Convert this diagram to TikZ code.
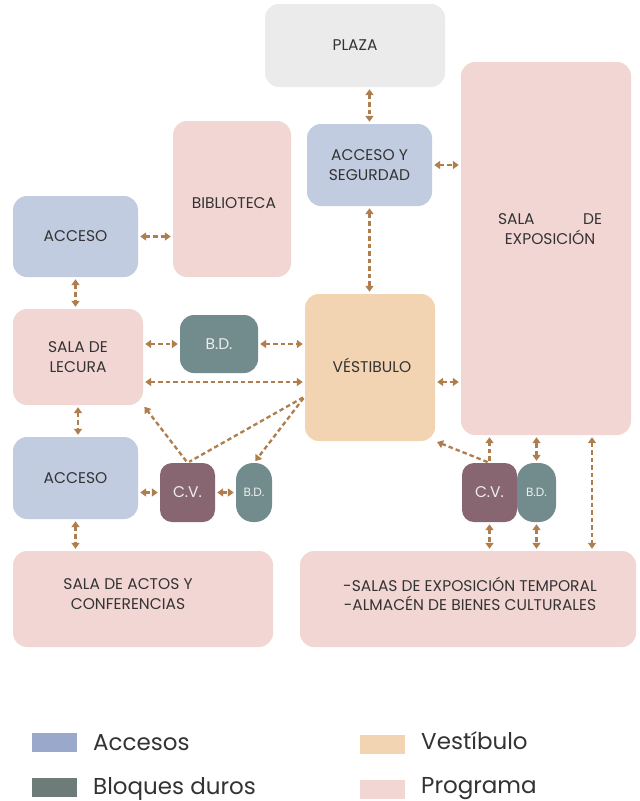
\documentclass[tikz,border=0pt]{standalone}
\usepackage{fontspec}
\setmainfont{Poppins}
\usetikzlibrary{arrows.meta}
\definecolor{acc}{HTML}{C2CCE0}
\definecolor{prog}{HTML}{F2D6D3}
\definecolor{vestc}{HTML}{F2D3B2}
\definecolor{plazac}{HTML}{EBEBEB}
\definecolor{bdc}{HTML}{728C8E}
\definecolor{cvc}{HTML}{876672}
\definecolor{arr}{HTML}{B07E4C}
\definecolor{txt}{HTML}{333333}
\definecolor{wtxt}{HTML}{EDEDED}
\definecolor{legacc}{HTML}{9AA8CC}
\definecolor{legbd}{HTML}{6D7B79}
\tikzset{
  box/.style={rounded corners=14pt, inner sep=0pt, text=txt, align=center,
    font=\fontsize{15.5}{19.5}\selectfont},
  lbl/.style={inner sep=0pt, text=txt, align=center, font=\fontsize{15.5}{19.5}\selectfont},
  conn/.style={draw=arr, line width=2.3pt, dash pattern=on 4.5pt off 3pt,
    shorten >=2pt, shorten <=2pt},
  tipboth/.style={conn, {Triangle[width=8pt,length=6pt]}-{Triangle[width=8pt,length=6pt]}},
  tipend/.style={conn, -{Triangle[width=8pt,length=6pt]}},
  swatch/.style={inner sep=0pt, minimum width=45pt, minimum height=19pt},
  legtxt/.style={anchor=base west, inner sep=0pt, text=txt, font=\fontsize{23}{26}\selectfont},
}
\begin{document}
\begin{tikzpicture}[x=1pt,y=-1pt]
\useasboundingbox[fill=white] (0,0) rectangle (640,801);
% boxes
\node[box, fill=plazac, minimum width=180pt, minimum height=83pt] (plaza) at (355,45.5) {PLAZA};
\node[box, fill=prog, minimum width=170pt, minimum height=373pt] (salaexp) at (546,248.5) {};
\node[lbl, text width=104pt] (salaexpt) at (550,229) {SALA\hfill DE\\EXPOSICIÓN};
\node[box, fill=acc, minimum width=125pt, minimum height=82pt] (accseg) at (369.5,165) {ACCESO Y\\SEGURDAD};
\node[box, fill=prog, minimum width=118pt, minimum height=156pt] (bib) at (232,199) {};
\node[lbl] (bibt) at (234,203) {BIBLIOTECA};
\node[box, fill=acc, minimum width=125pt, minimum height=81pt] (acc1) at (75.5,236.5) {ACCESO};
\node[box, fill=prog, minimum width=130pt, minimum height=96pt] (lect) at (78,357) {SALA DE\\LECURA};
\node[box, fill=bdc, text=wtxt, minimum width=78pt, minimum height=58pt] (bd1) at (219,344) {B.D.};
\node[box, fill=vestc, minimum width=130pt, minimum height=147pt] (vest) at (370,367.5) {};
\node[lbl] (vestt) at (372,365) {VÉSTIBULO};
\node[box, fill=acc, minimum width=125pt, minimum height=82pt] (acc2) at (75.5,478) {ACCESO};
\node[box, fill=cvc, text=wtxt, rounded corners=12pt, minimum width=55pt, minimum height=59pt] (cv1) at (187.5,492.5) {C.V.};
\node[box, fill=bdc, text=wtxt, rounded corners=17pt, minimum width=36pt, minimum height=59pt,
  font=\fontsize{12}{14}\selectfont] (bd2) at (254,492.5) {B.D.};
\node[box, fill=cvc, text=wtxt, rounded corners=12pt, minimum width=55pt, minimum height=59pt] (cv2) at (489.5,492.5) {C.V.};
\node[box, fill=bdc, text=wtxt, rounded corners=17pt, minimum width=39pt, minimum height=59pt,
  font=\fontsize{12}{14}\selectfont] (bd3) at (536.5,492.5) {B.D.};
\node[box, fill=prog, minimum width=260pt, minimum height=96pt] (actos) at (143,599) {};
\node[lbl] (actost) at (128,594) {SALA DE ACTOS Y\\CONFERENCIAS};
\node[box, fill=prog, minimum width=336pt, minimum height=96pt] (temp) at (468,599) {};
\node[lbl] (tempt) at (470,594) {-SALAS DE EXPOSICIÓN TEMPORAL\\-ALMACÉN DE BIENES CULTURALES};
% connectors
\draw[tipboth] (accseg.north |- plaza.south) -- (accseg.north);
\draw[tipboth] (accseg.east) -- (accseg.east -| salaexp.west);
\draw[tipboth] (accseg.south) -- (accseg.south |- vest.north);
\draw[tipboth] (acc1.east) -- (acc1.east -| bib.west);
\draw[tipboth] (acc1.south) -- (acc1.south |- lect.north);
\draw[tipboth] (bd1.west -| lect.east) -- (bd1.west);
\draw[tipboth] (bd1.east) -- (bd1.east -| vest.west);
\coordinate (le) at ([yshift=-25pt]lect.east);
\draw[tipboth] (le) -- (le -| vest.west);
\draw[tipboth] (lect.south) -- (lect.south |- acc2.north);
\draw[tipboth] (cv1.west -| acc2.east) -- (cv1.west);
\draw[tipboth] (cv1.east) -- (bd2.west);
\draw[tipboth] (acc2.south) -- (acc2.south |- actos.north);
\draw[tipend] (cv1.north) -- (lect.south east);
\coordinate (vw) at ([yshift=-29pt]vest.west);
\draw[conn] (vw) -- (cv1.north);
\draw[tipend] (vw) -- (bd2.north);
\coordinate (ve) at ([yshift=-14.5pt]vest.east);
\draw[tipboth] (ve) -- (ve -| salaexp.west);
\draw[tipend] (cv2.north) -- (vest.south east);
\draw[tipend] (cv2.north) -- (cv2.north |- salaexp.south);
\draw[tipboth] (bd3.north) -- (bd3.north |- salaexp.south);
\coordinate (se) at ([xshift=46pt]salaexp.south);
\draw[tipboth] (se) -- (se |- temp.north);
\draw[tipboth] (cv2.south) -- (cv2.south |- temp.north);
\draw[tipboth] (bd3.south) -- (bd3.south |- temp.north);
% legend
\node[swatch, fill=legacc] (s1) at (54.5,742.5) {};
\node[legtxt] (t1) at (93,750) {Accesos};
\node[swatch, fill=legbd] (s2) at (54.5,787.5) {};
\node[legtxt] (t2) at (93,794) {Bloques duros};
\node[swatch, fill=vestc] (s3) at (382.5,744.5) {};
\node[legtxt] (t3) at (421,749) {Vestíbulo};
\node[swatch, fill=prog] (s4) at (382.5,789.5) {};
\node[legtxt] (t4) at (421,793) {Programa};
\end{tikzpicture}
\end{document}
